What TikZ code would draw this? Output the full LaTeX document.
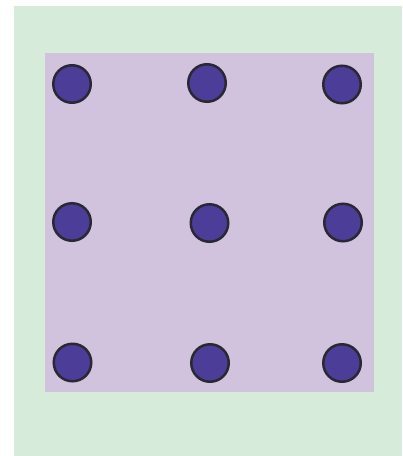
\documentclass[tikz,border=0pt]{standalone}
\usepackage{xcolor}
\usepackage{tikz}
\usetikzlibrary{positioning, calc}
\definecolor{bgGreen}{RGB}{214, 235, 217}
\definecolor{plotLilac}{RGB}{209, 194, 222}
\definecolor{dotBlue}{RGB}{76, 62, 152}
\definecolor{dotRim}{RGB}{42, 40, 52}

\begin{document}
\begin{tikzpicture}[x=0.02cm, y=-0.02cm,
    dot/.style={circle, draw=dotRim, fill=dotBlue, line width=0.05cm, minimum size=0.75cm, inner sep=0pt}]
    % 画布
    \useasboundingbox (0,0) rectangle (402,456);
    \fill[bgGreen] (14,6) rectangle (402,456);
    \fill[plotLilac] (45,53) rectangle (374,392);

    % 上排
    \node[dot] (d11) at (72, 84) {};
    \node[dot] (d12) at (207, 83) {};
    \node[dot] (d13) at (342, 84.5) {};

    % 中排
    \node[dot] (d21) at (72, 222) {};
    \node[dot] (d22) at (209.5, 223) {};
    \node[dot] (d23) at (343, 222.5) {};

    % 下排
    \node[dot] (d31) at (72.5, 362.5) {};
    \node[dot] (d32) at (210, 363) {};
    \node[dot] (d33) at (342, 363) {};
\end{tikzpicture}
\end{document}
